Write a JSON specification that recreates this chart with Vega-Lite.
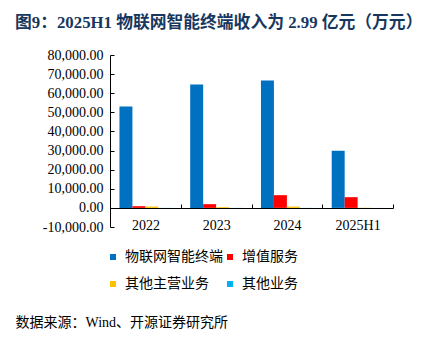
{
  "$schema": "https://vega.github.io/schema/vega-lite/v6.json",
  "width": 283,
  "height": 172,
  "autosize": {"type": "none"},
  "padding": {"left": 110, "top": 55, "right": 43, "bottom": 120},
  "background": "white",
  "title": {
    "text": "图9：2025H1 物联网智能终端收入为 2.99 亿元（万元）",
    "anchor": "start",
    "frame": "group",
    "dx": -95,
    "offset": 3,
    "baseline": "alphabetic",
    "font": "Liberation Serif, Noto Sans CJK SC",
    "fontSize": 16.8,
    "fontWeight": "bold",
    "color": "#17375E"
  },
  "config": {
    "view": {"stroke": null},
    "locale": {"number": {"decimal": ".", "thousands": ",", "grouping": [3], "currency": ["$", ""], "minus": "-"}},
    "axis": {"grid": false, "domainColor": "#000000", "tickColor": "#000000", "labelColor": "#000000"}
  },
  "data": {
    "values": [
      {"year": "2022", "type": "物联网智能终端", "value": 53100},
      {"year": "2022", "type": "增值服务", "value": 890},
      {"year": "2022", "type": "其他主营业务", "value": 700},
      {"year": "2022", "type": "其他业务", "value": 40},
      {"year": "2023", "type": "物联网智能终端", "value": 64600},
      {"year": "2023", "type": "增值服务", "value": 1950},
      {"year": "2023", "type": "其他主营业务", "value": 400},
      {"year": "2023", "type": "其他业务", "value": 40},
      {"year": "2024", "type": "物联网智能终端", "value": 66700},
      {"year": "2024", "type": "增值服务", "value": 6650},
      {"year": "2024", "type": "其他主营业务", "value": 700},
      {"year": "2024", "type": "其他业务", "value": 40},
      {"year": "2025H1", "type": "物联网智能终端", "value": 29900},
      {"year": "2025H1", "type": "增值服务", "value": 5600},
      {"year": "2025H1", "type": "其他主营业务", "value": 100},
      {"year": "2025H1", "type": "其他业务", "value": 20}
    ]
  },
  "mark": {"type": "bar"},
  "encoding": {
    "x": {
      "field": "year",
      "type": "nominal",
      "sort": ["2022", "2023", "2024", "2025H1"],
      "scale": {"paddingInner": 0, "paddingOuter": 0},
      "axis": {
        "offset": -19,
        "labelAngle": 0,
        "labelFont": "Liberation Serif",
        "labelFontSize": 14,
        "labelPadding": 14,
        "tickBand": "extent",
        "tickSize": -4,
        "title": "数据来源：Wind、开源证券研究所",
        "titleX": -95,
        "titleY": 114,
        "titleAlign": "left",
        "titleAnchor": null,
        "titleBaseline": "middle",
        "titleFont": "Liberation Serif, Noto Sans CJK SC",
        "titleFontSize": 14,
        "titleFontWeight": "normal",
        "titleColor": "#000000"
      }
    },
    "xOffset": {
      "field": "type",
      "type": "nominal",
      "sort": ["物联网智能终端", "增值服务", "其他主营业务", "其他业务"],
      "scale": {"paddingInner": 0, "paddingOuter": 0.73}
    },
    "y": {
      "field": "value",
      "type": "quantitative",
      "scale": {"domain": [-10000, 80000], "nice": false, "zero": false},
      "axis": {
        "values": [-10000, 0, 10000, 20000, 30000, 40000, 50000, 60000, 70000, 80000],
        "format": ",.2f",
        "title": null,
        "labelFont": "Liberation Serif",
        "labelFontSize": 14,
        "tickSize": -4,
        "labelPadding": 11
      }
    },
    "color": {
      "field": "type",
      "type": "nominal",
      "sort": ["物联网智能终端", "增值服务", "其他主营业务", "其他业务"],
      "scale": {
        "domain": ["物联网智能终端", "增值服务", "其他主营业务", "其他业务"],
        "range": ["#0070C0", "#FF0000", "#FFC000", "#00B0F0"]
      },
      "legend": {
        "orient": "none",
        "direction": "horizontal",
        "legendX": -4,
        "legendY": 195,
        "columns": 2,
        "title": null,
        "padding": 0,
        "symbolType": "square",
        "symbolSize": 36,
        "symbolStrokeWidth": 0,
        "labelFont": "Noto Sans CJK SC",
        "labelFontSize": 14,
        "labelColor": "#000000",
        "labelOffset": 5,
        "labelLimit": 200,
        "columnPadding": -2,
        "rowPadding": 13
      }
    }
  }
}
